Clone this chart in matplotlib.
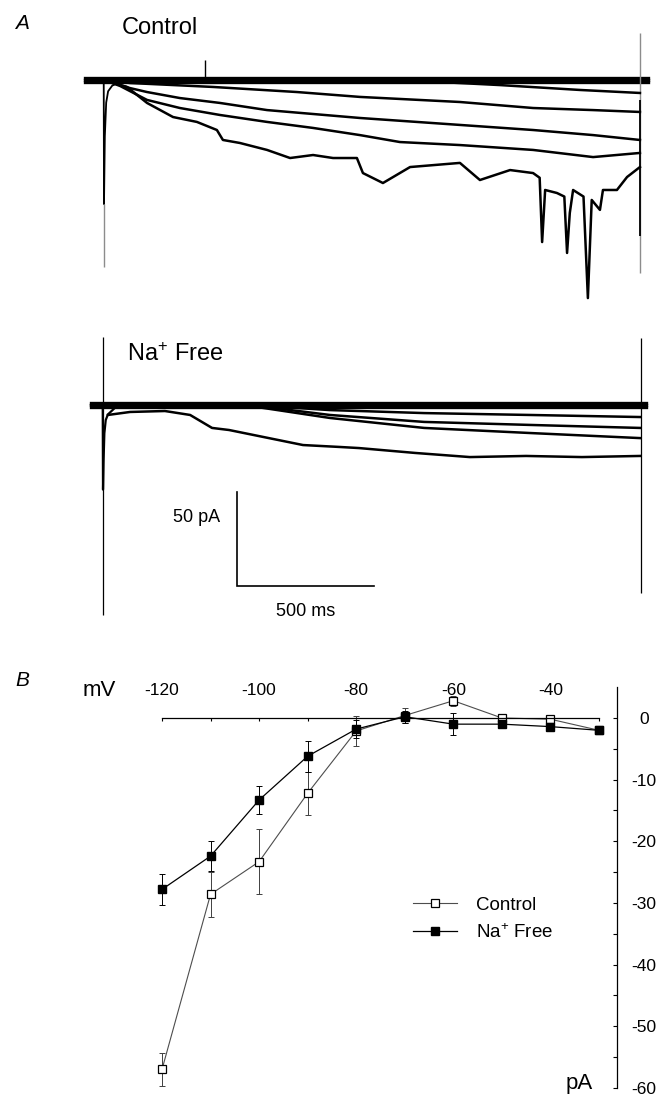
import matplotlib
matplotlib.use("Agg")
import matplotlib.pyplot as plt

plt.rcParams['font.family'] = ['Liberation Sans', 'DejaVu Sans']
plt.rcParams['mathtext.default'] = 'regular'
plt.rcParams['axes.unicode_minus'] = False

# ---- panel A : current traces (time in ms, current in pA) ----
# Control
ctrl_base_t = [-69, 1985]
ctrl_base_levels = [1.2, 0.0, -1.2]
ctrl_on_t = [-69, -1, 0, 3, 8, 15, 30, 60]
ctrl_on_i = [0, 0, -66, -30, -12, -6, -3, -1]
ctrl_on_tail = [-66, -99.5]
ctrl_off_t = 1956
ctrl_off_gray = [25, -102.7]
ctrl_off_black = [-10.6, -83]
ctrl_artifact_t = 369
ctrl_artifact_i = [0, 10.6]

ctrl_traces = [
    ([0, 1080, 1445, 1737, 1956],
     [0, 0, -2.7, -5.3, -6.9]),
    ([0, 95, 398, 704, 934, 1299, 1566, 1785, 1956],
     [0, -1.6, -3.7, -6.4, -9.0, -11.7, -14.9, -16.0, -17.0]),
    ([0, 95, 157, 277, 423, 595, 934, 1299, 1566, 1785, 1956],
     [0, -4.3, -6.4, -9.6, -12.2, -16.0, -20.2, -23.9, -26.6, -29.3, -31.9]),
    ([0, 59, 157, 277, 423, 595, 763, 934, 1080, 1299, 1566, 1785, 1956],
     [0, -3.2, -10.6, -14.9, -18.6, -22.3, -25.5, -29.3, -33.0, -34.6, -37.2, -41.0, -38.8]),
    ([22, 84, 157, 252, 339, 412, 434, 496, 595, 679, 763, 836, 923, 945, 1018,
      1117, 1299, 1372, 1482, 1566, 1590, 1599, 1610, 1653, 1680, 1690, 1700,
      1712, 1750, 1766, 1780, 1810, 1821, 1872, 1909, 1956],
     [-1.1, -3.7, -12.2, -19.7, -22.3, -26.6, -31.9, -33.5, -37.2, -41.5, -39.9,
      -41.5, -41.5, -49.5, -54.8, -46.3, -44.1, -53.2, -47.9, -49.5, -52, -86.2,
      -58.5, -60.1, -62, -92.0, -70.7, -58.5, -62, -116.0, -63.8, -69.1, -58.5,
      -58.5, -51.6, -46.3]),
]

# Na+ free
na_base_t = [-44, 1982]
na_base_levels = [1.2, 0.0, -1.2]
na_on_t = [-44, -1, 0, 2, 5, 10, 18, 40]
na_on_i = [0, 0, -45, -30, -15, -8, -5, -2]
na_on_line = [36.2, -111.7]
na_off_t = 1963
na_off_line = [35.6, -100]

na_traces = [
    ([0, 536, 828, 1172, 1558, 1960], [0, 0, -2.7, -4.3, -5.3, -6.4]),
    ([0, 536, 828, 1172, 1558, 1960], [0, 0, -5.3, -9.0, -10.6, -12.2]),
    ([0, 536, 828, 1172, 1558, 1960], [0, -0.5, -6.9, -12.2, -14.9, -17.6]),
    ([18, 99, 226, 318, 398, 460, 730, 861, 934, 1139, 1339, 1544, 1748, 1960],
     [-5.3, -3.7, -3.2, -5.3, -12.2, -13.3, -21.3, -22.3, -22.9, -25.5, -27.7,
      -27.1, -27.7, -27.1]),
]

# scale bar
bar_t = [489, 489, 989]
bar_i = [-46.3, -96.3, -96.3]

# ---- panel B : I-V relation ----
volts = [-120, -110, -100, -90, -80, -70, -60, -50, -40, -30]
control = [-57.0, -28.6, -23.3, -12.2, -2.1, 0.4, 2.8, 0.0, -0.2, -2.0]
control_err = [2.7, 3.6, 5.3, 3.5, 2.4, 1.2, 0.8, 0.7, 0.4, 0.3]
na_free = [-27.8, -22.4, -13.3, -6.2, -1.8, 0.2, -1.0, -1.0, -1.4, -2.0]
na_err = [2.5, 2.4, 2.3, 2.5, 1.5, 1.0, 1.8, 0.5, 0.4, 0.3]
x_labels = [-120, -100, -80, -60, -40]
y_ticks = [-60, -50, -40, -30, -20, -10, 0]

W, H = 661, 1095
fig = plt.figure(figsize=(W / 100, H / 100), dpi=100)


def px_axes(left, top, right, bottom):
    return fig.add_axes([left / W, 1 - bottom / H, (right - left) / W, (bottom - top) / H])


# Control traces
axc = px_axes(76.6, 4.8, 652.0, 324.4)
axc.set_xlim(-100, 2000)
axc.set_ylim(-130, 40)
axc.axis('off')
for lev in ctrl_base_levels:
    axc.plot(ctrl_base_t, [lev, lev], color='black', lw=2.4)
axc.plot(ctrl_on_t, ctrl_on_i, color='black', lw=1.3)
axc.vlines(0, ctrl_on_tail[1], ctrl_on_tail[0], color='0.55', lw=1)
axc.vlines(ctrl_off_t, ctrl_off_gray[1], ctrl_off_gray[0], color='0.55', lw=1)
axc.vlines(ctrl_off_t, ctrl_off_black[1], ctrl_off_black[0], color='black', lw=1.3)
axc.vlines(ctrl_artifact_t, ctrl_artifact_i[0], ctrl_artifact_i[1], color='black', lw=1)
for t, i in ctrl_traces:
    axc.plot(t, i, color='black', lw=1.8, solid_joinstyle='round')

# Na+ free traces
axn = px_axes(75.6, 329.8, 651.0, 649.4)
axn.set_xlim(-100, 2000)
axn.set_ylim(-130, 40)
axn.axis('off')
for lev in na_base_levels:
    axn.plot(na_base_t, [lev, lev], color='black', lw=2.4)
axn.plot(na_on_t, na_on_i, color='black', lw=1.6)
axn.vlines(0, na_on_line[1], na_on_line[0], color='black', lw=0.9)
axn.vlines(na_off_t, na_off_line[1], na_off_line[0], color='black', lw=0.9)
for t, i in na_traces:
    axn.plot(t, i, color='black', lw=1.8, solid_joinstyle='round')
axn.plot(bar_t, bar_i, color='black', lw=1.2, solid_joinstyle='miter')
axn.text(427, -60.1, '50 pA', fontsize=13, ha='right', va='center')
axn.text(739, -110.1, '500 ms', fontsize=13, ha='center', va='center')

fig.text(15 / W, 1 - 23.5 / H, 'A', fontsize=15, style='italic', va='center')
fig.text(122 / W, 1 - 28.5 / H, 'Control', fontsize=17, va='center')
fig.text(127 / W, 1 - 355 / H, 'Na$^{+}$ Free', fontsize=17, va='center')
fig.text(15 / W, 1 - 680 / H, 'B', fontsize=15, style='italic', va='center')

# Panel B
axb = px_axes(16.3, 687.15, 617.0, 1088.0)
axb.set_xlim(-150, -26.3)
axb.set_ylim(-60, 5)
axb.patch.set_alpha(0)

axb.errorbar(volts, control, yerr=control_err, fmt='none', ecolor='0.25',
             elinewidth=0.7, capsize=2, capthick=0.7)
axb.plot(volts, control, '-s', color='0.3', lw=0.8, ms=6, mfc='white',
         mec='black', mew=0.9, label='Control')
axb.errorbar(volts, na_free, yerr=na_err, fmt='none', ecolor='black',
             elinewidth=0.7, capsize=2, capthick=0.7)
axb.plot(volts, na_free, '-s', color='black', lw=0.9, ms=6, mfc='black',
         mec='black', label='Na$^{+}$ Free')

axb.spines['left'].set_visible(False)
axb.spines['top'].set_visible(False)
axb.spines['bottom'].set_position(('data', 0))
axb.spines['bottom'].set_bounds(-120, -30)
axb.spines['right'].set_bounds(-60, 5)
for s in ('bottom', 'right'):
    axb.spines[s].set_linewidth(0.9)

axb.set_xticks(volts)
axb.tick_params(axis='x', direction='out', length=2.5, width=0.8,
                bottom=True, top=False, labelbottom=False, labeltop=False)
for v in x_labels:
    axb.text(v, 4.5, str(v), fontsize=12.5, ha='center', va='center')
axb.text(-136.3, 4.5, 'mV', fontsize=16, ha='left', va='center')
axb.text(-34.1, -59.3, 'pA', fontsize=16, ha='center', va='center')

axb.yaxis.tick_right()
axb.set_yticks(y_ticks)
axb.set_yticklabels([str(v) for v in y_ticks])
axb.set_yticks([-55, -45, -35, -25, -15, -5], minor=True)
axb.tick_params(axis='y', which='both', direction='in', length=3, width=0.8,
                left=False, right=True, labelleft=False, labelright=True,
                pad=19.4, labelsize=12.5)
for lbl in axb.get_yticklabels():
    lbl.set_ha('center')

axb.legend(loc='upper left', bbox_to_anchor=(-68.3, -29.0),
           bbox_transform=axb.transData, frameon=False, fontsize=13.5,
           handlelength=2.35, handletextpad=1.0, labelspacing=0.5, borderpad=0,
           borderaxespad=0)

fig.savefig('out.png', dpi=100)
